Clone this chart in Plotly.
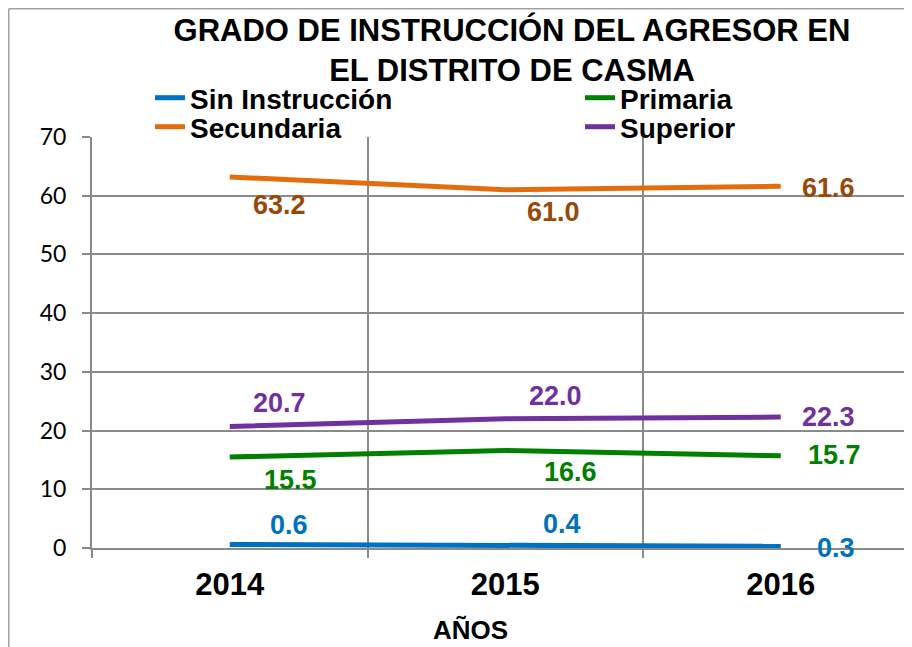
import plotly.graph_objects as go

# ---- data ----
years = ["2014", "2015", "2016"]
sin_instruccion = [0.6, 0.4, 0.3]
primaria = [15.5, 16.6, 15.7]
secundaria = [63.2, 61.0, 61.6]
superior = [20.7, 22.0, 22.3]

title_text = "GRADO DE INSTRUCCIÓN DEL AGRESOR EN<br>EL DISTRITO DE CASMA"
x_title = "AÑOS"
y_ticks = [0, 10, 20, 30, 40, 50, 60, 70]

# ---- styles ----
# page shows the figure offset by the body margin (8px); coordinates below
# are page pixels converted to figure pixels with OFF.
OFF = 8
W, H = 912, 647
PLOT_L, PLOT_T, PLOT_B = 92, 137, 548          # page px
ML = PLOT_L - OFF
MT = PLOT_T - OFF
MB = H - (PLOT_B - OFF)
MR = 0
PW = W - ML - MR
PH = H - MT - MB
CAT_PX = 275.5
x_pos = list(range(len(years)))
x_range = [-0.5, -0.5 + PW / CAT_PX]

BOLD = "Liberation Sans, Arial, sans-serif"
GRID = "#8a8a8a"


def cx(px):  # page x -> container fraction
    return (px - OFF) / W


def cy(py):  # page y -> container fraction
    return 1 - (py - OFF) / H


def pxp(px):  # page x -> paper fraction
    return (px - PLOT_L) / PW


def pyp(py):  # page y -> paper fraction
    return (PLOT_B - py) / PH


series = [
    # name, values, line colour, label colour, legend id, legend pos (page px), label offsets (dx, dy) px
    ("Sin Instrucción", sin_instruccion, "#0070C0", "#0070C0", "legend", (150, 98),
     [(59, -19), (57, -22), (55, 2)]),
    ("Primaria", primaria, "#008000", "#008000", "legend2", (580, 98),
     [(61, 23), (65, 21), (54, -1)]),
    ("Secundaria", secundaria, "#E46C0A", "#984807", "legend3", (150, 127),
     [(50, 28), (48, 22), (48, 2)]),
    ("Superior", superior, "#7030A0", "#7030A0", "legend4", (580, 127),
     [(50, -23), (50, -23), (48, 0)]),
]

fig = go.Figure()
annotations = []
legends = {}
for name, vals, col, lcol, leg, (lx, ly), offs in series:
    fig.add_trace(go.Scatter(
        x=x_pos, y=vals, mode="lines", name=name,
        line=dict(color=col, width=5),
        legend=leg, hoverinfo="skip",
    ))
    legends[leg] = dict(
        orientation="h", xref="container", yref="container",
        x=cx(lx), y=cy(ly), xanchor="left", yanchor="middle",
        bgcolor="rgba(0,0,0,0)", borderwidth=0,
        font=dict(family=BOLD, size=28, color="black", weight="bold"),
        itemwidth=30,
    )
    for xi, v, (dx, dy) in zip(x_pos, vals, offs):
        annotations.append(dict(
            x=xi, y=v, xref="x", yref="y", text=f"{v:.1f}",
            showarrow=False, xanchor="center", yanchor="middle",
            xshift=dx, yshift=-dy,
            font=dict(family=BOLD, size=27, color=lcol, weight="bold"),
        ))

annotations.append(dict(
    x=pxp(470), y=pyp(630),
    xref="paper", yref="paper", text=x_title,
    showarrow=False, xanchor="center", yanchor="middle",
    font=dict(family=BOLD, size=26, color="black", weight="bold"),
))

frame_x = pxp(OFF + 0.75)
frame_y = pyp(OFF + 0.75)
shapes = [
    dict(type="line", xref="paper", yref="paper",
         x0=frame_x, x1=frame_x, y0=-0.5, y1=frame_y,
         line=dict(color="#a0a0a0", width=1.5)),
    dict(type="line", xref="paper", yref="paper",
         x0=frame_x, x1=1.2, y0=frame_y, y1=frame_y,
         line=dict(color="#a0a0a0", width=1.5)),
]

fig.update_layout(
    width=W, height=H,
    margin=dict(l=ML, r=MR, t=MT, b=MB, pad=0, autoexpand=False),
    paper_bgcolor="white", plot_bgcolor="white",
    title=dict(text=title_text, x=cx(512), xref="container",
               xanchor="center", y=cy(41), yref="container", yanchor="top",
               font=dict(family=BOLD, size=31, color="black", weight="bold")),
    xaxis=dict(
        range=x_range, tickmode="array", tickvals=x_pos, ticktext=years,
        showgrid=False, zeroline=False, ticks="",
        showline=True, linecolor=GRID, linewidth=2,
        tickfont=dict(family=BOLD, size=31, color="black", weight="bold"),
        ticklabelstandoff=8,
        minor=dict(tickmode="array", tickvals=[-0.5, 0.5, 1.5, 2.5],
                   showgrid=True, gridcolor=GRID, gridwidth=2,
                   ticks="outside", ticklen=8, tickcolor=GRID, tickwidth=2),
    ),
    yaxis=dict(
        range=[0, 70], tickmode="array", tickvals=y_ticks,
        showgrid=True, gridcolor=GRID, gridwidth=2, zeroline=False,
        showline=True, linecolor=GRID, linewidth=2,
        ticks="outside", ticklen=8, tickcolor=GRID, tickwidth=2,
        tickfont=dict(family="Lato, Carlito, sans-serif", size=23, color="black"),
        ticklabelstandoff=11,
    ),
    annotations=annotations,
    shapes=shapes,
    showlegend=True,
    **legends,
)

fig.write_html("out.html")
